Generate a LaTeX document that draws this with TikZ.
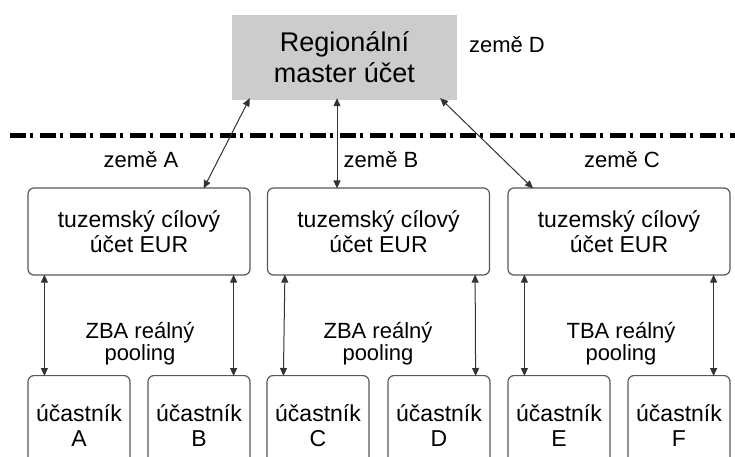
\documentclass[tikz,border=0pt]{standalone}
\usepackage{fontspec}
\setmainfont{Liberation Sans}
\usetikzlibrary{arrows.meta}
\begin{document}
\begin{tikzpicture}[x=1pt,y=-1pt,
  acct/.style={draw=black!65,line width=1.2pt,rounded corners=6pt,minimum height=87pt,minimum width=222pt,align=center,font=\fontsize{23}{25}\selectfont,inner sep=0pt},
  part/.style={draw=black!65,line width=1.2pt,rounded corners=6pt,minimum height=100pt,minimum width=102pt,align=center,font=\fontsize{23}{25}\selectfont,inner sep=0pt,anchor=north},
  lbl/.style={align=center,font=\fontsize{22}{22}\selectfont,inner sep=0pt},
  pl/.style={align=center,font=\fontsize{22}{22}\selectfont,inner sep=0pt},
  conn/.style={{Triangle[length=8pt,width=7pt]}-{Triangle[length=8pt,width=7pt]},line width=1pt,draw=black!80}
]
\clip (0,0) rectangle (735,457);
\fill[white] (0,0) rectangle (735,457);
% top box
\node[fill=black!20,minimum width=225pt,minimum height=85pt,inner sep=0pt,align=center,font=\fontsize{27}{31}\selectfont] (top) at (344.5,57.5) {Regionální\\master účet};
\node[lbl] (zd) at (507,45) {země D};
% dash-dot line
\coordinate (dl) at (10,136);
\coordinate (dr) at (745,136);
\draw[line width=5pt,dash pattern=on 16pt off 3.5pt on 3.5pt off 7pt] (dl) -- (dr);
% country labels
\node[lbl] (za) at (141,160) {země A};
\node[lbl] (zb) at (381,160) {země B};
\node[lbl] (zc) at (622,160) {země C};
% account boxes
\node[acct] (a1) at (139,231.5) {tuzemský cílový\\účet EUR};
\node[acct] (a2) at (378.5,231.5) {tuzemský cílový\\účet EUR};
\node[acct] (a3) at (619,231.5) {tuzemský cílový\\účet EUR};
% participants
\node[part] (pA) at (79,375) {účastník\\A};
\node[part] (pB) at (199,375) {účastník\\B};
\node[part] (pC) at (318,375) {účastník\\C};
\node[part] (pD) at (439,375) {účastník\\D};
\node[part] (pE) at (559,375) {účastník\\E};
\node[part] (pF) at (679,375) {účastník\\F};
% pooling labels
\node[pl] (l1) at (140,344) {ZBA reálný\\pooling};
\node[pl] (l2) at (378,344) {ZBA reálný\\pooling};
\node[pl] (l3) at (621,344) {TBA reálný\\pooling};
% top connectors
\draw[conn] ([xshift=18pt,yshift=2pt]top.south west) -- ([xshift=-47pt,yshift=-1pt]a1.north east);
\draw[conn] ([xshift=-7.5pt,yshift=2pt]top.south) -- ([xshift=-41.5pt,yshift=-1pt]a2.north);
\draw[conn] ([xshift=-17pt,yshift=2pt]top.south east) -- ([xshift=-86pt,yshift=-1pt]a3.north);
% lower connectors
\draw[conn] ([xshift=17pt,yshift=1pt]a1.south west) -- ([xshift=17pt,yshift=-1pt]pA.north west);
\draw[conn] ([xshift=-17pt,yshift=1pt]a1.south east) -- ([xshift=-17pt,yshift=-1pt]pB.north east);
\draw[conn] ([xshift=18pt,yshift=1pt]a2.south west) -- ([xshift=17pt,yshift=-1pt]pC.north west);
\draw[conn] ([xshift=-15pt,yshift=1pt]a2.south east) -- ([xshift=-15pt,yshift=-1pt]pD.north east);
\draw[conn] ([xshift=17pt,yshift=1pt]a3.south west) -- ([xshift=17pt,yshift=-1pt]pE.north west);
\draw[conn] ([xshift=-17pt,yshift=1pt]a3.south east) -- ([xshift=-17pt,yshift=-1pt]pF.north east);
\end{tikzpicture}
\end{document}
